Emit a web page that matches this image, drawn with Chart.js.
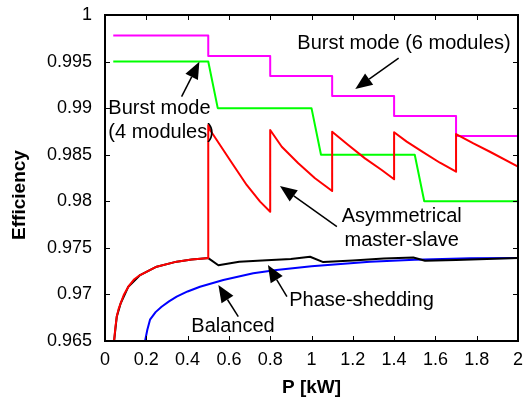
<!DOCTYPE html>
<html>
<head>
<meta charset="utf-8">
<script src="https://cdn.jsdelivr.net/npm/chart.js@4/dist/chart.umd.min.js"></script>
<style>
html, body { margin: 0; padding: 0; background: #fff; }
#wrap { width: 524px; height: 401px; }
</style>
</head>
<body>
<div id="wrap"><canvas id="eff"></canvas></div>
<script>
const xTicks = [0, 0.2, 0.4, 0.6, 0.8, 1, 1.2, 1.4, 1.6, 1.8, 2]
const yTicks = [0.965, 0.97, 0.975, 0.98, 0.985, 0.99, 0.995, 1]

// Asymmetrical master-slave (red)
const asymP = [0.044, 0.05, 0.057, 0.066, 0.076, 0.092, 0.113, 0.14, 0.17, 0.25, 0.347, 0.42, 0.49, 0.5,
    0.5, 0.51, 0.525, 0.605, 0.686, 0.751, 0.8,
    0.8, 0.856, 0.936, 1.017, 1.1,
    1.1, 1.178, 1.259, 1.34, 1.4,
    1.4, 1.461, 1.542, 1.622, 1.7,
    1.7, 1.784, 1.864, 2]
const asymEff = [0.965, 0.9664, 0.96762, 0.96845, 0.96905, 0.9700, 0.97083, 0.9716, 0.97208, 0.97298, 0.97352, 0.97375, 0.97388, 0.9739,
    0.9882, 0.9876, 0.98712, 0.98443, 0.98175, 0.97996, 0.97888,
    0.98765, 0.98586, 0.98408, 0.98247, 0.9811,
    0.98747, 0.98604, 0.98461, 0.98336, 0.98236,
    0.98741, 0.9864, 0.98526, 0.98414, 0.98318,
    0.98722, 0.98622, 0.98532, 0.98371]

// Burst mode, 6 modules (magenta)
const burst6P = [0.04, 0.5, 0.5, 0.8, 0.8, 1.1, 1.1, 1.4, 1.4, 1.7, 1.7, 2]
const burst6Eff = [0.9978, 0.9978, 0.9956, 0.9956, 0.99345, 0.99345, 0.9913, 0.9913, 0.98916, 0.98916, 0.98701, 0.98701]

// Burst mode, 4 modules (green)
const burst4P = [0.04, 0.5, 0.546, 1.0, 1.046, 1.5, 1.546, 2]
const burst4Eff = [0.995, 0.995, 0.99, 0.99, 0.985, 0.985, 0.98, 0.98]

// Phase-shedding (black)
const shedP = [0.044, 0.057, 0.076, 0.113, 0.17, 0.25, 0.347, 0.42, 0.49, 0.5,
    0.549, 0.65, 0.783, 0.9, 0.993, 1.057, 1.2, 1.35, 1.493, 1.55, 1.7, 1.85, 2]
const shedEff = [0.965, 0.96762, 0.96905, 0.97083, 0.97208, 0.97298, 0.97352, 0.97375, 0.97388, 0.9739,
    0.97313, 0.9735, 0.97366, 0.9738, 0.97404, 0.97347, 0.97365, 0.97385, 0.97397, 0.97361, 0.9737, 0.9738, 0.9739]

// Balanced (blue)
const balP = [0.194, 0.205, 0.218, 0.245, 0.274, 0.31, 0.347, 0.4, 0.46, 0.573, 0.718, 0.83, 1.0, 1.283, 1.5, 1.768, 2]
const balEff = [0.965, 0.9662, 0.96729, 0.9681, 0.96868, 0.96925, 0.96976, 0.97032, 0.97083, 0.97155, 0.97227, 0.97262, 0.97303, 0.9735, 0.97372, 0.97388, 0.9739]

// text labels + arrows, placed in data coordinates
const notes = [
    {lines: ['Burst mode (6 modules)'], x: 1.448, y: 0.99699, align: 'center', from: [1.422, 0.99538], to: [1.212, 0.99206]},
    {lines: ['Burst mode', '(4 modules)'], x: 0.016, y: 0.98998, align: 'left', from: [0.371, 0.99123], to: [0.457, 0.99499]},
    {lines: ['Asymmetrical', 'master-slave'], x: 1.437, y: 0.97834, align: 'center', from: [1.123, 0.97727], to: [0.847, 0.98164]},
    {lines: ['Phase-shedding'], x: 1.242, y: 0.9694, align: 'center', from: [0.881, 0.96976], to: [0.789, 0.97316]},
    {lines: ['Balanced'], x: 0.62, y: 0.96653, align: 'center', from: [0.6455, 0.96761], to: [0.549, 0.9710]}
]

const FONT = '"Liberation Sans", Arial, Helvetica, sans-serif'
const pts = (xs, ys) => xs.map((x, i) => ({x: x, y: ys[i]}))
const fmt = v => String(Number(v.toFixed(3)))

const line = (data, color) => ({
    data: data, borderColor: color, borderWidth: 2, pointRadius: 0,
    fill: false, tension: 0, borderJoinStyle: 'round'
})

const drawArrow = (ctx, x0, y0, x1, y1) => {
    const a = Math.atan2(y1 - y0, x1 - x0)
    const len = 17, hw = 7
    const bx = x1 - len * Math.cos(a), by = y1 - len * Math.sin(a)
    ctx.beginPath()
    ctx.moveTo(x0, y0)
    ctx.lineTo(bx, by)
    ctx.lineWidth = 1.5
    ctx.strokeStyle = '#000'
    ctx.stroke()
    ctx.beginPath()
    ctx.moveTo(x1, y1)
    ctx.lineTo(bx + hw * Math.sin(a), by - hw * Math.cos(a))
    ctx.lineTo(bx - hw * Math.sin(a), by + hw * Math.cos(a))
    ctx.closePath()
    ctx.fillStyle = '#000'
    ctx.fill()
}

const framePlugin = {
    id: 'frame',
    afterDatasetsDraw(chart) {
        const ctx = chart.ctx
        const a = chart.chartArea
        const xs = chart.scales.x, ys = chart.scales.y
        ctx.save()
        // inward ticks on all four sides
        ctx.strokeStyle = '#000'
        ctx.lineWidth = 1
        ctx.beginPath()
        xTicks.forEach(t => {
            const px = Math.round(xs.getPixelForValue(t)) + 0.5
            ctx.moveTo(px, a.bottom); ctx.lineTo(px, a.bottom - 5)
            ctx.moveTo(px, a.top); ctx.lineTo(px, a.top + 5)
        })
        yTicks.forEach(t => {
            const py = Math.round(ys.getPixelForValue(t)) + 0.5
            ctx.moveTo(a.left, py); ctx.lineTo(a.left + 5, py)
            ctx.moveTo(a.right, py); ctx.lineTo(a.right - 5, py)
        })
        ctx.stroke()
        ctx.lineWidth = 2
        ctx.strokeRect(a.left, a.top, a.right - a.left, a.bottom - a.top)

        // annotations
        ctx.font = '20px ' + FONT
        ctx.fillStyle = '#000'
        ctx.textBaseline = 'middle'
        notes.forEach(n => {
            ctx.textAlign = n.align
            const px = xs.getPixelForValue(n.x)
            const py = ys.getPixelForValue(n.y)
            n.lines.forEach((s, i) => ctx.fillText(s, px, py + i * 24))
            drawArrow(ctx, xs.getPixelForValue(n.from[0]), ys.getPixelForValue(n.from[1]),
                xs.getPixelForValue(n.to[0]), ys.getPixelForValue(n.to[1]))
        })

        // axis titles
        ctx.font = 'bold 19px ' + FONT
        ctx.textAlign = 'center'
        ctx.fillText('P [kW]', (a.left + a.right) / 2, 388)
        ctx.translate(20, 195)
        ctx.rotate(-Math.PI / 2)
        ctx.fillText('Efficiency', 0, 0)
        ctx.restore()
    }
}

new Chart(document.getElementById('eff'), {
    type: 'line',
    data: {
        datasets: [
            line(pts(asymP, asymEff), '#ff0000'),
            line(pts(burst6P, burst6Eff), '#ff00ff'),
            line(pts(burst4P, burst4Eff), '#00ff00'),
            line(pts(shedP, shedEff), '#000000'),
            line(pts(balP, balEff), '#0000ff')
        ]
    },
    options: {
        responsive: true,
        maintainAspectRatio: false,
        animation: false,
        clip: true,
        layout: {padding: {top: 15, right: 6, left: 0, bottom: 0}},
        plugins: {legend: {display: false}, tooltip: {enabled: false}},
        scales: {
            x: {
                type: 'linear', min: 0, max: 2,
                afterBuildTicks: s => { s.ticks = xTicks.map(v => ({value: v})) },
                afterFit: s => { s.height = 60; s.paddingLeft = 0; s.paddingRight = 0 },
                grid: {display: false, drawTicks: false},
                border: {display: false},
                ticks: {color: '#000', padding: 8, maxRotation: 0, autoSkip: false,
                    font: {family: FONT, size: 18}, callback: v => fmt(v)}
            },
            y: {
                type: 'linear', min: 0.965, max: 1,
                afterBuildTicks: s => { s.ticks = yTicks.map(v => ({value: v})) },
                afterFit: s => { s.width = 105; s.paddingTop = 0; s.paddingBottom = 0 },
                grid: {display: false, drawTicks: false},
                border: {display: false},
                ticks: {color: '#000', padding: 13, autoSkip: false,
                    font: {family: FONT, size: 18}, callback: v => fmt(v)}
            }
        }
    },
    plugins: [framePlugin]
})
</script>
</body>
</html>
